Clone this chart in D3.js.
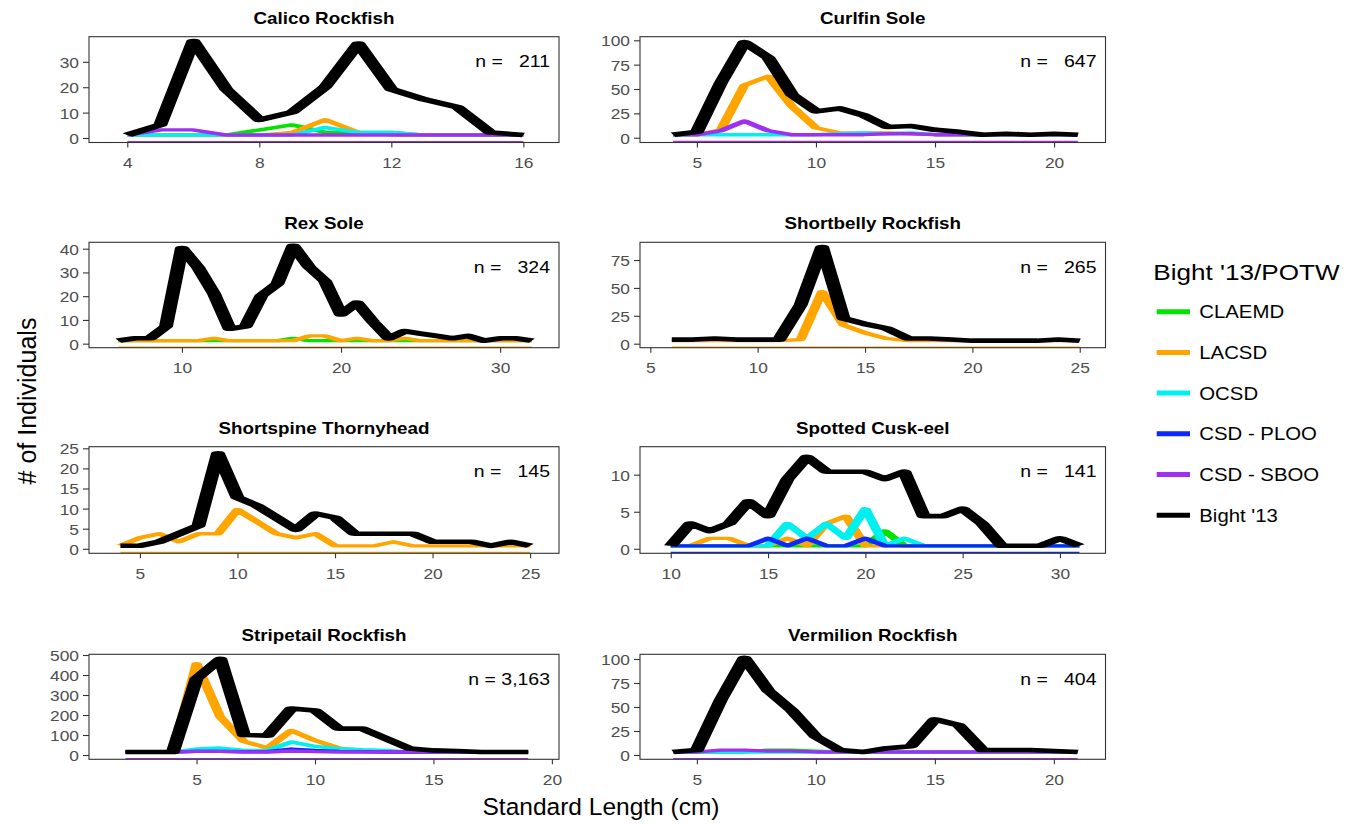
<!DOCTYPE html>
<html><head><meta charset="utf-8">
<script src="https://cdn.jsdelivr.net/npm/d3@7"></script>
<style>
body{margin:0;background:#fff;}
svg text{font-family:"Liberation Sans",Arial,Helvetica,sans-serif;}
</style>
</head><body>
<svg id="chart" width="1356" height="824"></svg>
<script>
// ---------------- DATA ----------------
const species = ["Calico Rockfish","Curlfin Sole","Rex Sole","Shortbelly Rockfish",
                 "Shortspine Thornyhead","Spotted Cusk-eel","Stripetail Rockfish","Vermilion Rockfish"];
const nTotals = [211, 647, 324, 265, 145, 141, 3163, 404];
const sites = ["CLAEMD","LACSD","OCSD","CSD - PLOO","CSD - SBOO","Bight '13"];
const siteColors = ["#00E400","#FFA500","#00F0F0","#0A28FF","#A030F0","#000000"];

const xTickLabels = [[4,8,12,16],[5,10,15,20],[10,20,30],[5,10,15,20,25],
                     [5,10,15,20,25],[10,15,20,25,30],[5,10,15,20],[5,10,15,20]];
const yTickLabels = [[0,10,20,30],[0,25,50,75,100],[0,10,20,30,40],[0,25,50,75],
                     [0,5,10,15,20,25],[0,5,10],[0,100,200,300,400,500],[0,25,50,75,100]];

// Calico Rockfish
const calicoLen    = [4,5,6,7,8,9,10,11,12,13,14,15,16];
const calicoCLAEMD = [0,0,0,0,2,4,1,1,1,0,0,0,0];
const calicoLACSD  = [0,0,0,0,0,1,6,1,0,0,0,0,0];
const calicoOCSD   = [0,0,0,0,0,0,3,1,1,0,0,0,0];
const calicoPLOO   = null;
const calicoSBOO   = [0,2,2,0,0,0,0,0,0,0,0,0,0];
const calicoBight  = [0,4,37,18,6,9,19,36,18,14,11,1,0];

// Curlfin Sole
const curlfinLen    = [4,5,6,7,8,9,10,11,12,13,14,15,16,17,18,19,20,21];
const curlfinCLAEMD = null;
const curlfinLACSD  = [0,0,5,51,60,29,7,2,2,2,1,0,0,0,0,0,0,0];
const curlfinOCSD   = [0,0,0,0,0,0,0,1,2,1,2,0,0,0,0,0,0,0];
const curlfinPLOO   = null;
const curlfinSBOO   = [0,0,4,14,4,0,0,0,0,1,1,0,0,0,0,0,0,0];
const curlfinBight  = [0,3,53,95,79,41,24,27,20,8,9,5,3,0,1,0,1,0];

// Rex Sole
const rexLen    = [6,7,8,9,10,11,12,13,14,15,16,17,18,19,20,21,22,23,24,25,26,27,28,29,30,31,32];
const rexCLAEMD = [0,0,0,0,0,0,0,0,0,0,0,1,0,0,0,0,0,0,0,0,0,0,0,0,0,0,0];
const rexLACSD  = [0,0,0,0,0,0,1,0,0,0,0,0,2,2,0,1,0,0,1,0,0,0,0,0,0,0,0];
const rexOCSD   = null;
const rexPLOO   = null;
const rexSBOO   = null;
const rexBight  = [0,1,1,6,39,31,20,5,6,19,24,40,31,25,11,16,8,1,4,3,2,1,2,0,1,1,0];

// Shortbelly Rockfish
const shortbellyLen    = [6,7,8,9,10,11,12,13,14,15,16,17,18,19,20,21,22,23,24,25];
const shortbellyCLAEMD = null;
const shortbellyLACSD  = [0,0,0,0,0,0,1,44,14,7,2,0,0,0,0,0,0,0,0,0];
const shortbellyOCSD   = null;
const shortbellyPLOO   = null;
const shortbellySBOO   = null;
const shortbellyBight  = [1,1,2,1,1,1,32,84,20,15,11,2,2,1,0,0,0,0,1,0];

// Shortspine Thornyhead
const thornyLen    = [4,5,6,7,8,9,10,11,12,13,14,15,16,17,18,19,20,21,22,23,24,25];
const thornyCLAEMD = null;
const thornyLACSD  = [0,2,3,1,3,3,9,6,3,2,3,0,0,0,1,0,0,0,0,0,0,0];
const thornyOCSD   = null;
const thornyPLOO   = null;
const thornySBOO   = null;
const thornyBight  = [0,0,1,3,5,23,12,10,7,4,8,7,3,3,3,3,1,1,1,0,1,0];

// Spotted Cusk-eel
const cuskLen    = [10,11,12,13,14,15,16,17,18,19,20,21,22,23,24,25,26,27,28,29,30,31];
const cuskCLAEMD = [0,0,0,0,0,0,0,0,0,0,0,2,0,0,0,0,0,0,0,0,0,0];
const cuskLACSD  = [0,0,1,1,0,0,1,0,3,4,0,0,0,0,0,0,0,0,0,0,0,0];
const cuskOCSD   = [0,0,0,0,0,0,3,1,3,1,5,0,1,0,0,0,0,0,0,0,0,0];
const cuskPLOO   = [0,0,0,0,0,1,0,1,0,0,1,0,0,0,0,0,0,0,0,0,0,0];
const cuskSBOO   = null;
const cuskBight  = [0,3,2,3,6,4,9,12,10,10,10,9,10,4,4,5,3,0,0,0,1,0];

// Stripetail Rockfish
const stripeLen    = [2,3,4,5,6,7,8,9,10,11,12,13,14,15,16,17,18,19];
const stripeCLAEMD = null;
const stripeLACSD  = [0,0,0,442,175,53,20,108,58,20,8,0,0,0,0,0,0,0];
const stripeOCSD   = [0,0,0,15,20,8,8,50,28,17,12,8,0,0,0,0,0,0];
const stripePLOO   = [0,0,0,3,3,2,2,15,8,3,2,0,0,0,0,0,0,0];
const stripeSBOO   = [0,0,0,3,3,0,0,5,2,0,0,0,0,0,0,0,0,0];
const stripeBight  = [0,0,0,367,465,85,82,217,208,117,117,67,17,8,5,0,0,0];

// Vermilion Rockfish
const vermLen    = [4,5,6,7,8,9,10,11,12,13,14,15,16,17,18,19,20,21];
const vermCLAEMD = [0,0,0,0,2,2,1,0,0,0,0,0,0,0,0,0,0,0];
const vermLACSD  = null;
const vermOCSD   = [0,0,0,0,0,0,0,0,0,0,0,0,0,0,0,0,0,0];
const vermPLOO   = null;
const vermSBOO   = [0,0,2,2,1,1,0,0,0,0,0,0,0,0,0,0,0,0];
const vermBight  = [0,2,54,98,64,43,16,2,0,4,6,34,28,2,2,2,1,0];

// ---------------- LAYOUT / SCALE SETTINGS ----------------
const panelLens = [calicoLen, curlfinLen, rexLen, shortbellyLen, thornyLen, cuskLen, stripeLen, vermLen];
const panelSeries = [
  [calicoCLAEMD, calicoLACSD, calicoOCSD, calicoPLOO, calicoSBOO, calicoBight],
  [curlfinCLAEMD, curlfinLACSD, curlfinOCSD, curlfinPLOO, curlfinSBOO, curlfinBight],
  [rexCLAEMD, rexLACSD, rexOCSD, rexPLOO, rexSBOO, rexBight],
  [shortbellyCLAEMD, shortbellyLACSD, shortbellyOCSD, shortbellyPLOO, shortbellySBOO, shortbellyBight],
  [thornyCLAEMD, thornyLACSD, thornyOCSD, thornyPLOO, thornySBOO, thornyBight],
  [cuskCLAEMD, cuskLACSD, cuskOCSD, cuskPLOO, cuskSBOO, cuskBight],
  [stripeCLAEMD, stripeLACSD, stripeOCSD, stripePLOO, stripeSBOO, stripeBight],
  [vermCLAEMD, vermLACSD, vermOCSD, vermPLOO, vermSBOO, vermBight]
];
const xDomains = [[2.84,17.08],[2.61,22.16],[4.16,33.7],[4.52,26.2],[2.39,26.48],[8.42,32.34],[0.46,20.3],[2.61,22.17]];
const yDomains = [[-1.77,39.9],[-4.9,103.7],[-1.7,42.7],[-3.6,90.9],[-1.12,25.4],[-0.61,13.78],[-21.5,503.5],[-4.5,104.9]];

const colX = [[89,559],[640,1105.5]];
const rowY = [[36.7,142.5],[242.3,347.7],[446.7,553.3],[654.3,759.3]];

const SQ = 0.33;      // vertical squash of line strokes
const OFF = 3;        // line baseline lift (px)
const TXT_SX = 1.12;

const svg = d3.select("#chart");
svg.append("rect").attr("width",1356).attr("height",824).attr("fill","#fff");

function label(parent, x, y, str, o) {
  const g = parent.append("g").attr("transform", `translate(${x},${y}) scale(${o.sx||1},1)`);
  g.append("text")
    .attr("text-anchor", o.anchor || "start")
    .attr("dominant-baseline", "central")
    .attr("xml:space", "preserve")
    .style("white-space", "pre")
    .style("font-size", o.size + "px")
    .style("font-weight", o.weight || "normal")
    .attr("fill", o.fill || "#000")
    .text(str);
  return g;
}

const fmtN = d3.format(",");

species.forEach((name, i) => {
  const col = i % 2, row = Math.floor(i / 2);
  const [x0, x1] = colX[col];
  const [y0, y1] = rowY[row];
  const x = d3.scaleLinear().domain(xDomains[i]).range([x0, x1]);
  const y = d3.scaleLinear().domain(yDomains[i]).range([y1, y0]);
  const g = svg.append("g");

  const clipId = "clip" + i;
  svg.append("clipPath").attr("id", clipId)
    .append("rect").attr("x", x0).attr("y", y0).attr("width", x1 - x0).attr("height", y1 - y0);

  // title
  label(g, (x0 + x1) / 2, y0 - 18.4, name, {size: 16.5, weight: "bold", anchor: "middle", sx: 1.14});

  const lens = panelLens[i];
  const series = panelSeries[i];
  const plot = g.append("g").attr("clip-path", `url(#${clipId})`);

  // thin baseline in colour of last-drawn coloured series
  let lastColored = -1;
  series.forEach((s, k) => { if (s && k < 5) lastColored = k; });
  if (lastColored >= 0) {
    plot.append("line")
      .attr("x1", x(lens[0])).attr("x2", x(lens[lens.length - 1]))
      .attr("y1", y(0) + 3.7).attr("y2", y(0) + 3.7)
      .attr("stroke", siteColors[lastColored]).attr("stroke-width", 1.6);
  }

  const squash = plot.append("g").attr("transform", `scale(1,${SQ})`);
  const line = d3.line().x(d => x(d.len)).y(d => (y(d.v) - OFF) / SQ);
  series.forEach((vals, k) => {
    if (!vals) return;
    const pts = lens.map((L, j) => ({len: L, v: vals[j]}));
    squash.append("path")
      .attr("d", line(pts))
      .attr("fill", "none")
      .attr("stroke", siteColors[k])
      .attr("stroke-width", k === 5 ? 14 : 10)
      .attr("stroke-linejoin", "round")
      .attr("stroke-linecap", "butt");
  });

  // border
  g.append("rect").attr("x", x0).attr("y", y0).attr("width", x1 - x0).attr("height", y1 - y0)
    .attr("fill", "none").attr("stroke", "#333").attr("stroke-width", 1.1);

  // axes
  const ax = g.append("g").attr("transform", `translate(0,${y1})`)
    .call(d3.axisBottom(x).tickValues(xTickLabels[i]).tickSize(5).tickFormat(d3.format("d")));
  const ay = g.append("g").attr("transform", `translate(${x0},0)`)
    .call(d3.axisLeft(y).tickValues(yTickLabels[i]).tickSize(6).tickFormat(d3.format("d")));
  [ax, ay].forEach(a => {
    a.select(".domain").remove();
    a.selectAll(".tick line").attr("stroke", "#333").attr("stroke-width", 1.1);
    a.selectAll("text").attr("fill", "#4D4D4D")
      .style("font-size", "15.5px")
      .style("font-family", '"Liberation Sans",Arial,sans-serif');
  });
  ax.selectAll("text").attr("y", 20).attr("dy", "0.35em").attr("transform", `scale(${TXT_SX},1)`);
  ay.selectAll("text").attr("x", -10 / TXT_SX).attr("dy", "0.35em").attr("transform", `scale(${TXT_SX},1)`);

  // n label
  const nStr = "n = " + fmtN(nTotals[i]).padStart(5, " ");
  label(g, x1 - 9, y0 + 25, nStr, {size: 16.5, anchor: "end", sx: 1.18});
});

// axis titles
svg.append("text").attr("transform", "translate(27,401) rotate(-90)")
  .attr("text-anchor", "middle").attr("dominant-baseline", "central")
  .style("font-size", "25px").attr("fill", "#000").text("# of Individuals");
svg.append("text").attr("x", 601).attr("y", 806)
  .attr("text-anchor", "middle").attr("dominant-baseline", "central")
  .style("font-size", "24.5px").attr("fill", "#000").text("Standard Length (cm)");

// legend
const leg = svg.append("g");
label(leg, 1153.3, 272, "Bight '13/POTW", {size: 22.5, sx: 1.16});
sites.forEach((s, k) => {
  const cy = 311.7 + k * 40.7;
  leg.append("line").attr("x1", 1156.7).attr("x2", 1190).attr("y1", cy).attr("y2", cy)
    .attr("stroke", siteColors[k]).attr("stroke-width", 5);
  label(leg, 1199.3, cy, s, {size: 18.5, sx: 1.1});
});
</script>
</body></html>
